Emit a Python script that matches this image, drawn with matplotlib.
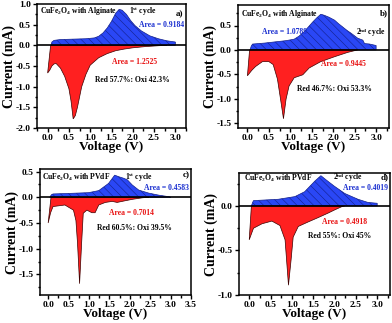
import matplotlib
matplotlib.use("Agg")
import matplotlib.pyplot as plt
import numpy as np
from matplotlib.ticker import MultipleLocator

plt.rcParams['font.family'] = ['Liberation Serif', 'DejaVu Serif']
plt.rcParams['font.weight'] = 'bold'
plt.rcParams['mathtext.fontset'] = 'custom'
plt.rcParams['mathtext.rm'] = 'Liberation Serif:bold'
plt.rcParams['mathtext.bf'] = 'Liberation Serif:bold'
plt.rcParams['mathtext.it'] = 'Liberation Serif:bold'
plt.rcParams['hatch.linewidth'] = 0.4

# ---------------- data ----------------
# Panel a: Alginate, 1st cycle
a_ox_v = [0.08, 0.1, 0.15, 0.3, 0.6, 0.9, 1.1, 1.2, 1.3, 1.4, 1.5, 1.6, 1.68, 1.75, 1.85, 1.95, 2.05, 2.2, 2.4, 2.6, 2.8, 3.0]
a_ox_i = [0.0, 0.08, 0.12, 0.14, 0.15, 0.16, 0.18, 0.22, 0.3, 0.42, 0.58, 0.78, 0.87, 0.85, 0.75, 0.6, 0.48, 0.35, 0.23, 0.16, 0.11, 0.08]
a_red_v = [0.07, 0.0, 0.05, 0.1, 0.15, 0.2, 0.3, 0.4, 0.5, 0.55, 0.6, 0.65, 0.7, 0.75, 0.8, 0.9, 1.0, 1.2, 1.4, 1.6, 1.8, 2.0, 2.3, 2.6, 2.8]
a_red_i = [0.0, -0.67, -0.6, -0.5, -0.45, -0.44, -0.55, -0.75, -1.05, -1.35, -1.78, -1.7, -1.5, -1.25, -1.0, -0.7, -0.48, -0.3, -0.2, -0.13, -0.09, -0.06, -0.03, -0.01, 0.0]

# Panel b: Alginate, 2nd cycle
b_ox_v = [0.06, 0.09, 0.12, 0.4, 0.7, 0.9, 1.09, 1.2, 1.32, 1.42, 1.52, 1.62, 1.71, 1.79, 1.9, 2.03, 2.12, 2.22, 2.32, 2.42, 2.57, 2.69, 2.73, 2.85, 3.0]
b_ox_i = [0.0, 0.08, 0.12, 0.14, 0.17, 0.19, 0.22, 0.28, 0.37, 0.47, 0.57, 0.66, 0.73, 0.71, 0.67, 0.61, 0.54, 0.47, 0.40, 0.34, 0.24, 0.2, 0.13, 0.12, 0.09]
b_red_v = [0.05, 0.0, 0.1, 0.19, 0.35, 0.5, 0.6, 0.7, 0.77, 0.84, 0.9, 0.97, 1.09, 1.29, 1.44, 1.71, 2.03, 2.34, 2.57]
b_red_i = [0.0, -0.53, -0.42, -0.34, -0.24, -0.24, -0.3, -0.6, -1.0, -1.41, -1.01, -0.74, -0.57, -0.51, -0.37, -0.24, -0.14, -0.05, 0.0]

# Panel c: PVdF, 1st cycle
c_ox_v = [0.04, 0.08, 0.12, 0.5, 0.99, 1.24, 1.48, 1.63, 1.73, 1.85, 1.94, 2.06, 2.22, 2.47, 2.72, 2.97, 3.0]
c_ox_i = [0.0, 0.05, 0.065, 0.075, 0.09, 0.13, 0.27, 0.43, 0.4, 0.37, 0.34, 0.24, 0.14, 0.08, 0.04, 0.01, 0.0]
c_red_v = [0.07, 0.0, 0.06, 0.12, 0.41, 0.62, 0.68, 0.72, 0.77, 0.82, 0.86, 0.95, 1.07, 1.15, 1.24, 1.4, 1.57, 1.69, 1.81, 2.06, 2.31, 2.47]
c_red_i = [0.0, -0.5, -0.3, -0.18, -0.15, -0.25, -0.45, -0.9, -1.68, -0.89, -0.31, -0.25, -0.3, -0.3, -0.15, -0.1, -0.08, -0.1, -0.08, -0.04, -0.01, 0.0]

# Panel d: PVdF, 2nd cycle
d_ox_v = [0.05, 0.08, 0.1, 0.68, 1.07, 1.3, 1.54, 1.68, 1.81, 2.0, 2.24, 2.55, 2.78, 3.0]
d_ox_i = [0.0, 0.04, 0.06, 0.075, 0.105, 0.16, 0.28, 0.34, 0.29, 0.22, 0.14, 0.075, 0.04, 0.03]
d_red_v = [0.05, 0.0, 0.1, 0.3, 0.53, 0.72, 0.84, 0.92, 0.98, 1.03, 1.15, 1.38, 1.62, 1.85, 2.0, 2.16, 2.24]
d_red_i = [0.0, -0.38, -0.25, -0.2, -0.17, -0.22, -0.38, -0.89, -0.61, -0.35, -0.23, -0.18, -0.13, -0.08, -0.045, -0.01, 0.0]

panels = [
    dict(ox_v=a_ox_v, ox_i=a_ox_i, red_v=a_red_v, red_i=a_red_i),
    dict(ox_v=b_ox_v, ox_i=b_ox_i, red_v=b_red_v, red_i=b_red_i),
    dict(ox_v=c_ox_v, ox_i=c_ox_i, red_v=c_red_v, red_i=c_red_i),
    dict(ox_v=d_ox_v, ox_i=d_ox_i, red_v=d_red_v, red_i=d_red_i),
]

binder = ["CuFe$_{2}$O$_{4}$ with Alginate", "CuFe$_{2}$O$_{4}$ with Alginate",
          "CuFe$_{2}$O$_{4}$ with PVdF", "CuFe$_{2}$O$_{4}$ with PVdF"]
cycles = ["1$^{\\rm st}$ cycle", "2$^{\\rm nd}$ cycle", "1$^{\\rm st}$ cycle", "2$^{\\rm nd}$ cycle"]
letters = ["a)", "b)", "c)", "d)"]
ox_area = ["Area = 0.9184", "Area = 1.0789", "Area = 0.4583", "Area = 0.4019"]
red_area = ["Area = 1.2525", "Area = 0.9445", "Area = 0.7014", "Area = 0.4918"]
ratio = ["Red 57.7%: Oxi 42.3%", "Red 46.7%: Oxi 53.3%", "Red 60.5%: Oxi 39.5%", "Red 55%: Oxi 45%"]

# ---------------- layout ----------------
W, H = 392, 323
fig = plt.figure(figsize=(W / 100, H / 100), dpi=100)

boxes = [(37, 186, 4, 128), (238, 389, 5, 128), (40, 191, 169, 295), (239, 390, 173, 295)]
xlims = [(-0.25, 3.25), (-0.22, 3.3), (-0.2, 3.5), (-0.24, 3.3)]
ylims = [(-2.0, 1.0), (-1.6, 0.92), (-1.9, 0.55), (-1.0, 0.37)]
xmax_tick = [3.0, 3.0, 3.5, 3.0]

# text positions (axes fraction)
pos_binder = [(0.02, 0.94), (0.02, 0.93), (0.01, 0.93), (0.03, 0.955)]
pos_cycle = [(0.62, 0.94), (0.78, 0.78), (0.56, 0.93), (0.62, 0.965)]
pos_letter = [(0.98, 0.92), (0.99, 0.93), (0.99, 0.95), (0.99, 0.965)]
pos_oxa = [(0.985, 0.83), (0.16, 0.78), (0.985, 0.85), (0.985, 0.875)]
pos_reda = [(0.50, 0.53), (0.55, 0.52), (0.46, 0.65), (0.55, 0.60)]
pos_ratio = [(0.39, 0.39), (0.39, 0.32), (0.38, 0.53), (0.46, 0.48)]
ha_oxa = ['right', 'left', 'right', 'right']

blue = '#2a47f5'
red = '#ff2020'

for k, p in enumerate(panels):
    l, r, t, b = boxes[k]
    ax = fig.add_axes([l / W, (H - b) / H, (r - l) / W, (b - t) / H])
    ax.fill_between(p['ox_v'], p['ox_i'], 0, facecolor=blue, edgecolor='#13208a',
                    hatch='\\\\\\\\', linewidth=0.5, zorder=2)
    ax.fill(p['red_v'], p['red_i'], facecolor=red, edgecolor='#3a0000',
            linewidth=0.5, zorder=2)
    ax.axhline(0, color='black', linewidth=1.2, zorder=3)
    ax.set_xlim(*xlims[k])
    ax.set_ylim(*ylims[k])
    ax.set_xticks(np.arange(0, xmax_tick[k] + 0.01, 0.5))
    ax.xaxis.set_minor_locator(MultipleLocator(0.25))
    ax.yaxis.set_major_locator(MultipleLocator(0.5))
    ax.yaxis.set_minor_locator(MultipleLocator(0.25))
    ax.xaxis.set_major_formatter(plt.FormatStrFormatter('%.1f'))
    ax.yaxis.set_major_formatter(plt.FormatStrFormatter('%.1f'))
    ax.tick_params(which='both', direction='out', top=False, right=False, width=1.0,
                   labelsize=6.8, pad=1.5)
    ax.tick_params(which='major', length=3)
    ax.tick_params(which='minor', length=1.8)
    for s in ax.spines.values():
        s.set_linewidth(1.1)
    for lab in ax.get_xticklabels() + ax.get_yticklabels():
        lab.set_fontweight('bold')
    ax.set_xlabel('Voltage (V)', fontsize=9.5, fontweight='bold', labelpad=-1)
    ax.set_ylabel('Current (mA)', fontsize=10, fontweight='bold', labelpad=0)

    fs = 5.5
    ax.text(*pos_binder[k], binder[k], transform=ax.transAxes, fontsize=fs,
            fontweight='bold', va='center', ha='left')
    ax.text(*pos_cycle[k], cycles[k], transform=ax.transAxes, fontsize=fs,
            fontweight='bold', va='center', ha='left')
    ax.text(*pos_letter[k], letters[k], transform=ax.transAxes, fontsize=6.5,
            fontweight='bold', va='center', ha='right')
    ax.text(*pos_oxa[k], ox_area[k], transform=ax.transAxes, fontsize=fs,
            fontweight='bold', va='center', ha=ha_oxa[k], color='#1a2fd0')
    ax.text(*pos_reda[k], red_area[k], transform=ax.transAxes, fontsize=fs,
            fontweight='bold', va='center', ha='left', color='#e81010')
    ax.text(*pos_ratio[k], ratio[k], transform=ax.transAxes, fontsize=fs,
            fontweight='bold', va='center', ha='left', color='black')

fig.savefig('out.png', dpi=100)
